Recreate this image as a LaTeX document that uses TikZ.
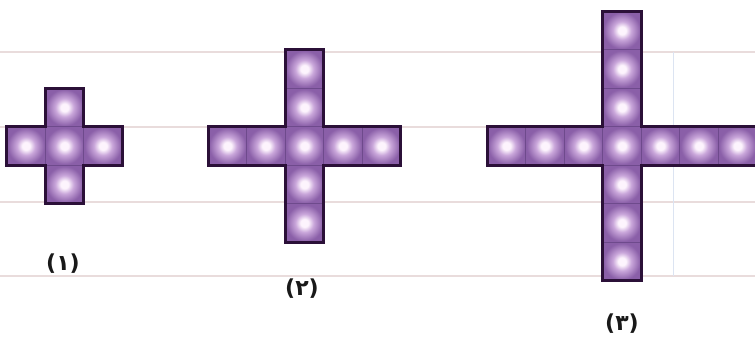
\documentclass[tikz,border=0pt]{standalone}
\usepackage{fontspec}
\newfontfamily\pfont{DejaVu Sans}
\definecolor{rulecol}{HTML}{E9DCDC}
\definecolor{bluecol}{HTML}{DCE4F2}
\definecolor{edgecol}{HTML}{2B1038}
\definecolor{cellout}{HTML}{8A5FA8}
\definecolor{cellmid}{HTML}{C9A6DA}
\definecolor{cellin}{HTML}{FDF4FD}
\definecolor{sepcol}{HTML}{6E4A8C}
\pgfdeclareradialshading{cellshade}{\pgfpoint{0bp}{0bp}}{%
  color(0bp)=(cellin); color(5bp)=(cellin); color(12bp)=(cellmid);
  color(24bp)=(cellout); color(50bp)=(cellout)}
\tikzset{
  rulestyle/.style={rulecol, line width=1.3pt},
  cellstyle/.style={shading=cellshade, draw=sepcol, line width=0.8pt},
  outlinestyle/.style={draw=edgecol, line width=2.6pt, line join=miter},
  lab/.style={font=\pfont\bfseries\fontsize{22}{26}\selectfont, inner sep=0pt, text=black!90}
}
\newcommand\pcell[2]{\shade[cellstyle] (#1-19.25,#2-19.25) rectangle ++(38.5,38.5);}
\newcommand\pcross[3]{%
  \foreach \i in {-#3,...,#3} {\pcell{#1+\i*38.5}{#2}\pcell{#1}{#2+\i*38.5}}
  \pgfmathsetmacro\La{(#3+0.5)*38.5}
  \draw[outlinestyle] (#1-19.25,#2-\La) -- (#1+19.25,#2-\La) -- (#1+19.25,#2-19.25)
    -- (#1+\La,#2-19.25) -- (#1+\La,#2+19.25) -- (#1+19.25,#2+19.25)
    -- (#1+19.25,#2+\La) -- (#1-19.25,#2+\La) -- (#1-19.25,#2+19.25)
    -- (#1-\La,#2+19.25) -- (#1-\La,#2-19.25) -- (#1-19.25,#2-19.25) -- cycle;
}
\begin{document}
\begin{tikzpicture}[x=1pt,y=-1pt]
\useasboundingbox (0,0) rectangle (755,343);
\fill[white] (0,0) rectangle (755,343);
\foreach \y in {52,127,202,276} {\draw[rulestyle] (0,\y) -- (755,\y);}
\draw[bluecol, line width=0.9pt] (673,52) -- (673,276);
\pcross{64.5}{146}{1}
\pcross{304.5}{146}{2}
\pcross{622}{146}{3}
\node[lab] (l1) at (63,264) {(۱)};
\node[lab] (l2) at (302,289) {(۲)};
\node[lab] (l3) at (622,324) {(۳)};
\end{tikzpicture}
\end{document}
